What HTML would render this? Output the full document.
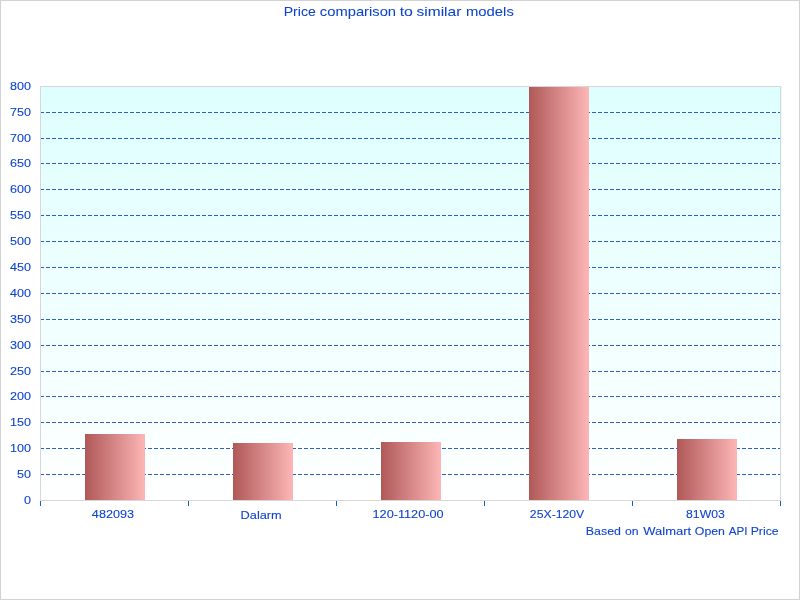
<!DOCTYPE html>
<html><head><meta charset="utf-8"><title>Price comparison to similar models</title>
<style>
html,body{margin:0;padding:0;background:#fff;}
body{width:800px;height:600px;overflow:hidden;font-family:"Liberation Sans",sans-serif;}
svg{display:block;position:absolute;left:0;top:0;}
text{font-family:"Liberation Sans",sans-serif;fill:#0e44ce;stroke:#0e44ce;stroke-width:0.1;}
.ax{font-size:11.8px;}
.tt{font-size:13.1px;stroke-width:0.05;}
</style></head><body>
<svg width="800" height="600" viewBox="0 0 800 600">
<defs>
<linearGradient id="bg" x1="0" y1="0" x2="0" y2="1"><stop offset="0" stop-color="#deffff"/><stop offset="1" stop-color="#ffffff"/></linearGradient>
<linearGradient id="bar" x1="0" y1="0" x2="1" y2="0"><stop offset="0" stop-color="#b05858"/><stop offset="1" stop-color="#fdb6b6"/></linearGradient>
<filter id="idf" filterUnits="userSpaceOnUse" x="0" y="0" width="800" height="600" color-interpolation-filters="sRGB"><feOffset dx="0" dy="0"/></filter>
</defs>
<g shape-rendering="crispEdges">
<rect x="0" y="0" width="800" height="600" fill="#ffffff"/>
<rect x="0.5" y="0.5" width="799" height="599" fill="none" stroke="#d2d2d2" stroke-width="1"/>
<rect x="40" y="86" width="742" height="415" fill="url(#bg)"/>
<line x1="40" y1="474.5" x2="780" y2="474.5" stroke="#2c5ecb" stroke-width="1" stroke-dasharray="4 2"/>
<line x1="40" y1="448.5" x2="780" y2="448.5" stroke="#2c5ecb" stroke-width="1" stroke-dasharray="4 2"/>
<line x1="40" y1="422.5" x2="780" y2="422.5" stroke="#2c5ecb" stroke-width="1" stroke-dasharray="4 2"/>
<line x1="40" y1="396.5" x2="780" y2="396.5" stroke="#2c5ecb" stroke-width="1" stroke-dasharray="4 2"/>
<line x1="40" y1="371.5" x2="780" y2="371.5" stroke="#2c5ecb" stroke-width="1" stroke-dasharray="4 2"/>
<line x1="40" y1="345.5" x2="780" y2="345.5" stroke="#2c5ecb" stroke-width="1" stroke-dasharray="4 2"/>
<line x1="40" y1="319.5" x2="780" y2="319.5" stroke="#2c5ecb" stroke-width="1" stroke-dasharray="4 2"/>
<line x1="40" y1="293.5" x2="780" y2="293.5" stroke="#2c5ecb" stroke-width="1" stroke-dasharray="4 2"/>
<line x1="40" y1="267.5" x2="780" y2="267.5" stroke="#2c5ecb" stroke-width="1" stroke-dasharray="4 2"/>
<line x1="40" y1="241.5" x2="780" y2="241.5" stroke="#2c5ecb" stroke-width="1" stroke-dasharray="4 2"/>
<line x1="40" y1="215.5" x2="780" y2="215.5" stroke="#2c5ecb" stroke-width="1" stroke-dasharray="4 2"/>
<line x1="40" y1="189.5" x2="780" y2="189.5" stroke="#2c5ecb" stroke-width="1" stroke-dasharray="4 2"/>
<line x1="40" y1="163.5" x2="780" y2="163.5" stroke="#2c5ecb" stroke-width="1" stroke-dasharray="4 2"/>
<line x1="40" y1="138.5" x2="780" y2="138.5" stroke="#2c5ecb" stroke-width="1" stroke-dasharray="4 2"/>
<line x1="40" y1="112.5" x2="780" y2="112.5" stroke="#2c5ecb" stroke-width="1" stroke-dasharray="4 2"/>
<rect x="85" y="434" width="60" height="66" fill="url(#bar)"/>
<rect x="233" y="443" width="60" height="57" fill="url(#bar)"/>
<rect x="381" y="442" width="60" height="58" fill="url(#bar)"/>
<rect x="529" y="87" width="60" height="413" fill="url(#bar)"/>
<rect x="677" y="439" width="60" height="61" fill="url(#bar)"/>
<rect x="40.5" y="86.5" width="740" height="414" fill="none" stroke="#d7d7d7" stroke-width="1"/>
<rect x="40" y="501" width="1" height="5" fill="#0a64ce"/>
<rect x="188" y="501" width="1" height="5" fill="#0a64ce"/>
<rect x="336" y="501" width="1" height="5" fill="#0a64ce"/>
<rect x="484" y="501" width="1" height="5" fill="#0a64ce"/>
<rect x="632" y="501" width="1" height="5" fill="#0a64ce"/>
<rect x="780" y="501" width="1" height="5" fill="#0a64ce"/>
</g>
<g filter="url(#idf)">
<text class="ax" x="31" y="504" text-anchor="end" textLength="7" lengthAdjust="spacingAndGlyphs">0</text>
<text class="ax" x="31" y="478" text-anchor="end" textLength="14" lengthAdjust="spacingAndGlyphs">50</text>
<text class="ax" x="31" y="452" text-anchor="end" textLength="21" lengthAdjust="spacingAndGlyphs">100</text>
<text class="ax" x="31" y="426" text-anchor="end" textLength="21" lengthAdjust="spacingAndGlyphs">150</text>
<text class="ax" x="31" y="400" text-anchor="end" textLength="21" lengthAdjust="spacingAndGlyphs">200</text>
<text class="ax" x="31" y="375" text-anchor="end" textLength="21" lengthAdjust="spacingAndGlyphs">250</text>
<text class="ax" x="31" y="349" text-anchor="end" textLength="21" lengthAdjust="spacingAndGlyphs">300</text>
<text class="ax" x="31" y="323" text-anchor="end" textLength="21" lengthAdjust="spacingAndGlyphs">350</text>
<text class="ax" x="31" y="297" text-anchor="end" textLength="21" lengthAdjust="spacingAndGlyphs">400</text>
<text class="ax" x="31" y="271" text-anchor="end" textLength="21" lengthAdjust="spacingAndGlyphs">450</text>
<text class="ax" x="31" y="245" text-anchor="end" textLength="21" lengthAdjust="spacingAndGlyphs">500</text>
<text class="ax" x="31" y="219" text-anchor="end" textLength="21" lengthAdjust="spacingAndGlyphs">550</text>
<text class="ax" x="31" y="193" text-anchor="end" textLength="21" lengthAdjust="spacingAndGlyphs">600</text>
<text class="ax" x="31" y="167" text-anchor="end" textLength="21" lengthAdjust="spacingAndGlyphs">650</text>
<text class="ax" x="31" y="142" text-anchor="end" textLength="21" lengthAdjust="spacingAndGlyphs">700</text>
<text class="ax" x="31" y="116" text-anchor="end" textLength="21" lengthAdjust="spacingAndGlyphs">750</text>
<text class="ax" x="31" y="90" text-anchor="end" textLength="21" lengthAdjust="spacingAndGlyphs">800</text>
<text class="tt" x="283.66" y="16" textLength="32.18" lengthAdjust="spacingAndGlyphs">Price</text>
<text class="tt" x="319.88" y="16" textLength="76.18" lengthAdjust="spacingAndGlyphs">comparison</text>
<text class="tt" x="399.70" y="16" textLength="13.23" lengthAdjust="spacingAndGlyphs">to</text>
<text class="tt" x="416.56" y="16" textLength="44.76" lengthAdjust="spacingAndGlyphs">similar</text>
<text class="tt" x="466.03" y="16" textLength="47.81" lengthAdjust="spacingAndGlyphs">models</text>
<text class="ax" x="585.88" y="535" textLength="35.04" lengthAdjust="spacingAndGlyphs">Based</text>
<text class="ax" x="625.06" y="535" textLength="13.60" lengthAdjust="spacingAndGlyphs">on</text>
<text class="ax" x="643.31" y="535" textLength="47.93" lengthAdjust="spacingAndGlyphs">Walmart</text>
<text class="ax" x="694.85" y="535" textLength="30.07" lengthAdjust="spacingAndGlyphs">Open</text>
<text class="ax" x="728.76" y="535" textLength="18.78" lengthAdjust="spacingAndGlyphs">API</text>
<text class="ax" x="750.69" y="535" textLength="27.90" lengthAdjust="spacingAndGlyphs">Price</text>
<text class="ax" x="91.86" y="518" textLength="42.25" lengthAdjust="spacingAndGlyphs">482093</text>
<text class="ax" x="240.61" y="519" textLength="41.16" lengthAdjust="spacingAndGlyphs">Dalarm</text>
<text class="ax" x="372.55" y="518" textLength="71.03" lengthAdjust="spacingAndGlyphs">120-1120-00</text>
<text class="ax" x="529.86" y="518" textLength="54.43" lengthAdjust="spacingAndGlyphs">25X-120V</text>
<text class="ax" x="686.04" y="518" textLength="38.74" lengthAdjust="spacingAndGlyphs">81W03</text>
</g>
</svg>
</body></html>
